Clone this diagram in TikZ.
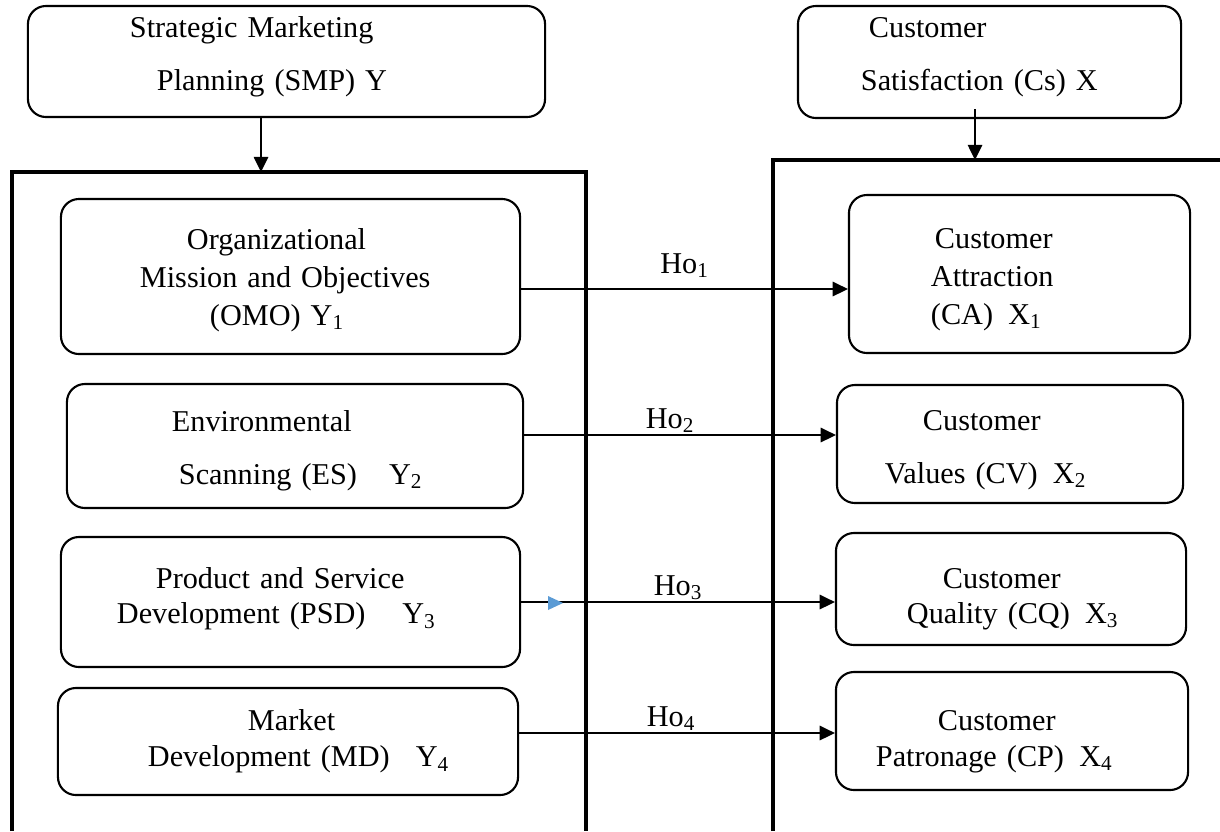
\documentclass[tikz,border=0pt]{standalone}
\usepackage{fontspec}
\setmainfont{Liberation Serif}
\usepackage{tikz}
\usetikzlibrary{arrows.meta,calc}
\definecolor{markblue}{RGB}{91,155,213}
\tikzstyle{construct} = [rectangle, rounded corners=0.45cm, align=left, inner xsep=0pt, inner ysep=0pt, draw=black, line width=1.5pt, font=\fontsize{21.5}{27}\selectfont]
\tikzstyle{frame} = [line width=2.4pt]
\tikzstyle{arrow} = [line width=1.4pt, -{Triangle[length=0.38cm,width=0.36cm]}]
\tikzstyle{hypo} = [above, inner sep=1pt, font=\fontsize{21.5}{27}\selectfont]

\begin{document}
\begin{tikzpicture}[x=0.025cm, y=-0.025cm]
\useasboundingbox (0,0) rectangle (1220,831);

% top constructs
\node(smp) [construct, text width=12.925cm, minimum height=2.775cm] at (286.5,61.5) {\hspace*{2.55cm}Strategic Marketing\\[0.375cm]\hspace*{3.225cm}Planning (SMP) Y\rule[-0.415cm]{0pt}{0pt}};
\node(cs) [construct, text width=9.575cm, minimum height=2.8cm] at (989.5,62) {\hspace*{1.775cm}Customer\\[0.375cm]\hspace*{1.575cm}Satisfaction (Cs) X\rule[-0.415cm]{0pt}{0pt}};

% frames
\coordinate (lfttop) at (261,172);
\coordinate (rgttop) at (975,160);
\draw[frame] (12,831) |- (586,172) -- (586,831);
\draw[frame] (773,831) |- (1220,160);

% dimensions of Y
\node(omo) [construct, text width=11.475cm, minimum height=3.875cm] at (290.5,276.5) {\hspace*{3.15cm}\rule{0pt}{0.715cm}Organizational\\\hspace*{1.975cm}Mission and Objectives\\\hspace*{3.725cm}(OMO) Y\textsubscript{1}};
\node(es) [construct, text width=11.4cm, minimum height=3.1cm] at (295,446) {\hspace*{2.625cm}\rule{0pt}{0.765cm}Environmental\\[0.375cm]\hspace*{2.8cm}Scanning (ES)\hspace{0.8cm}Y\textsubscript{2}};
\node(psd) [construct, text width=11.475cm, minimum height=3.25cm] at (290.5,602) {\hspace*{2.375cm}Product and Service\\[-0.075cm]\hspace*{1.4cm}Development (PSD)\hspace{0.92cm}Y\textsubscript{3}\rule[-0.315cm]{0pt}{0pt}};
\node(md) [construct, text width=11.5cm, minimum height=2.675cm] at (288,741.5) {\hspace*{4.75cm}Market\\[-0.05cm]\hspace*{2.25cm}Development (MD)\hspace{0.65cm}Y\textsubscript{4}};

% dimensions of X
\node(ca) [construct, text width=8.525cm, minimum height=3.95cm] at (1019.5,274) {\hspace*{2.15cm}\rule{0pt}{0.765cm}Customer\\\hspace*{2.05cm}Attraction\\\hspace*{2.05cm}(CA)\hspace{0.38cm}X\textsubscript{1}};
\node(cv) [construct, text width=8.65cm, minimum height=2.95cm] at (1010,444) {\hspace*{2.15cm}\rule{0pt}{0.815cm}Customer\\[0.375cm]\hspace*{1.2cm}Values (CV)\hspace{0.38cm}X\textsubscript{2}};
\node(cq) [construct, text width=8.75cm, minimum height=2.8cm] at (1011,589) {\hspace*{2.675cm}\rule{0pt}{1.015cm}Customer\\[-0.075cm]\hspace*{1.775cm}Quality (CQ)\hspace{0.38cm}X\textsubscript{3}};
\node(cp) [construct, text width=8.8cm, minimum height=2.95cm] at (1012,731) {\hspace*{2.55cm}\rule{0pt}{1.015cm}Customer\\[-0.05cm]\hspace*{1cm}Patronage (CP)\hspace{0.38cm}X\textsubscript{4}};

\draw [arrow] (lfttop |- smp.south) -- (lfttop);
\draw [arrow] ($(rgttop |- cs.south)+(0,-10)$) -- (rgttop);

\draw [arrow] (omo.east |- 0,289) -- node[hypo, yshift=0.225cm]{Ho\textsubscript{1}} (ca.west |- 0,289);
\draw [arrow] (es.east |- 0,435) -- node[hypo, xshift=-0.25cm]{Ho\textsubscript{2}} (cv.west |- 0,435);
\draw [arrow] (psd.east |- 0,602) -- node[hypo]{Ho\textsubscript{3}} (cq.west |- 0,602);
\draw [arrow] (md.east |- 0,733) -- node[hypo, xshift=-0.15cm]{Ho\textsubscript{4}} (cp.west |- 0,733);

\fill[markblue] (548,596) -- (563,603) -- (548,610) -- cycle;

\end{tikzpicture}
\end{document}
